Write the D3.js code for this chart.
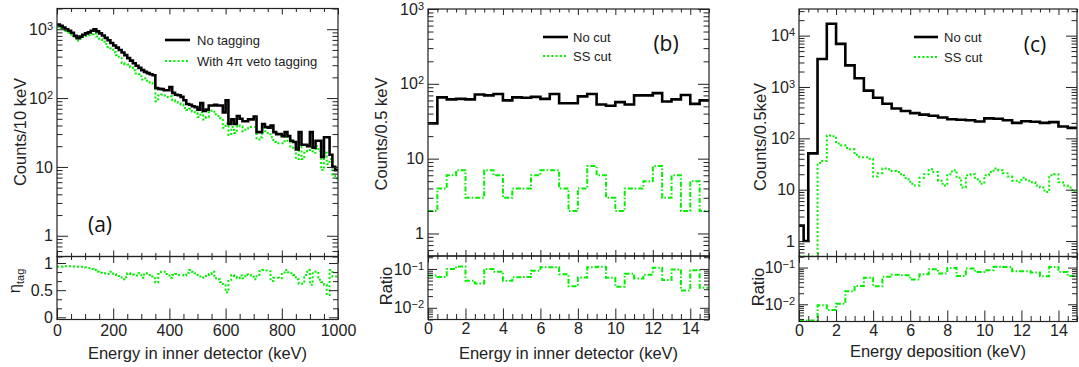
<!DOCTYPE html>
<html>
<head>
<meta charset="utf-8">
<script src="https://cdn.jsdelivr.net/npm/d3@7/dist/d3.min.js"></script>
<style>
  html, body { margin:0; padding:0; background:#fff; }
  svg { display:block; }
</style>
</head>
<body>
<svg id="chart" width="1079" height="367"></svg>
<script>
// ================= DATA =================
// Panel (a): 10 keV bins, 0-1000 keV
const aBinWidth = 10;
const aNoTagging = [1170,1120,1060,1000,950,890,800,740,780,830,
  870,900,950,1000,930,870,810,750,690,630,
  580,540,500,460,420,380,350,320,295,275,
  255,240,230,222,215,140,136,135,130,130,
  145,119,112,110,104,93,82,80,76,74,
  68,85,65,68,78,78,80,78,78,62,
  93,42,49,42,55,50,46,46,49,49,
  54,32,32,42,38,37,40,32,30,30,
  28,32,28,24,23,18,32,21,21,20,
  32,19,24,24,14,27,27,15,10,9];
const aWithVeto = [1088,1042,996,940,893,837,744,688,725,772,
  800,819,846,870,781,713,656,608,552,529,
  464,421,380,322,311,308,280,253,227,223,
  186,194,179,167,155,90,109,113,109,104,
  106,93,90,86,81,72,67,70,64,60,
  53,62,49,53,62,66,58,55,51,37,
  43,29,38,31,40,39,33,36,38,38,
  38,25,27,37,33,31,27,23,22,22,
  22,28,23,19,18,13,20,13,16,17,
  19,16,20,17,9,16,11,13,7.5,6.8];
const aEtaTag = [.93,.93,.94,.94,.94,.94,.93,.93,.93,.93,
  .92,.91,.89,.87,.84,.82,.81,.81,.80,.84,
  .80,.78,.76,.70,.74,.81,.80,.79,.77,.81,
  .73,.81,.78,.75,.72,.64,.80,.84,.84,.80,
  .73,.78,.80,.78,.78,.77,.82,.87,.84,.81,
  .78,.73,.76,.78,.80,.84,.72,.70,.65,.59,
  .46,.69,.78,.74,.72,.77,.72,.79,.78,.77,
  .70,.78,.85,.87,.86,.85,.67,.73,.73,.72,
  .80,.87,.83,.81,.78,.70,.62,.62,.78,.87,
  .60,.84,.84,.69,.65,.60,.41,.87,.75,.75];
const aXTicks = [0,200,400,600,800,1000];
const aYTicks = [1,10,100,1000];
const aRatioTicks = [0,0.5,1];
const aLegend = ['No tagging', 'With 4\u03c0 veto tagging'];

// Panel (b): 0.5 keV bins, 0-15 keV
const bBinWidth = 0.5;
const bNoCut = [29.6,66,62,63,62,72,70,73,60,66,65,67,63,73,55,55,68,73,53,51,57,53,70,70,75,58,62,71,54,60];
const bSSCut = [2,4,6,7,3,3,7,6,3,4,4,6,7,7,4,2,4,8,6,3,2,4,4,5,8,3,6,2,5,2];
const bRatio = [0.068,0.062,0.10,0.115,0.05,0.042,0.10,0.085,0.05,0.061,0.062,0.09,0.11,0.11,0.073,0.036,0.06,0.11,0.113,0.059,0.035,0.075,0.057,0.071,0.107,0.052,0.097,0.028,0.093,0.033];
const bXTicks = [0,2,4,6,8,10,12,14];
const bYTicks = [1,10,100,1000];
const bRatioTicks = [0.01,0.1];
const bLegend = ['No cut', 'SS cut'];

// Panel (c): 0.25 keV bins for spectra, 0.5 keV bins for ratio
const cFineWidth = 0.25, cRatioWidth = 0.5;
const cNoCut = [2,1,51,51,3500,3500,17000,17000,6900,6900,2640,2640,1480,1480,850,850,615,615,470,470,
  380,380,340,340,310,310,290,290,275,275,255,255,235,235,230,230,225,225,213,213,
  245,245,240,240,225,225,200,200,215,215,210,210,200,200,207,207,170,170,160,160];
const cSSCut = [0,0,0,0,33,36,114,110,79,73,65,61,48,43,43,40,18,21,26,25,23,22,19,16,13,12,17,20,
  25,22,15,12,20,24,17,11,19,20,16,13,19,22,26,24,21,18,15,14,17,15,14,12,11,9,19,20,14,12,11,9];
const cRatio = [0,0,0.0094,0.007,0.0104,0.0226,0.0316,0.053,0.031,0.056,0.064,0.062,0.047,0.066,0.090,
  0.069,0.098,0.059,0.094,0.076,0.085,0.106,0.104,0.079,0.079,0.073,0.058,0.104,0.076,0.059];
const cXTicks = [0,2,4,6,8,10,12,14];
const cYTicks = [1,10,100,1000,10000];
const cRatioTicks = [0.01,0.1];
const cLegend = ['No cut', 'SS cut'];

// ================= STYLE / LAYOUT =================
const FONT = '"Liberation Sans", Arial, Helvetica, sans-serif';
const GREEN = '#00f000';
const INK = '#222';
const DOT = '2,2.2';
const DASHDOT = '5,2,1.5,2';

const svg = d3.select('#chart');

function linSteps(domain, step) {
  const out = [];
  const n0 = Math.ceil(domain[0] / step - 1e-9), n1 = Math.floor(domain[1] / step + 1e-9);
  for (let n = n0; n <= n1; n++) out.push(+(n * step).toFixed(6));
  return out;
}
function logMinor(domain) {
  const out = [];
  for (let k = Math.floor(Math.log10(domain[0])); k <= Math.ceil(Math.log10(domain[1])); k++) {
    for (let m = 2; m < 10; m++) {
      const v = m * Math.pow(10, k);
      if (v >= domain[0] * 0.999 && v <= domain[1] * 1.001) out.push(v);
    }
  }
  return out;
}
function supLabel(sel, v) {
  const k = Math.round(Math.log10(v));
  sel.text(null);
  if (k === 0) { sel.text('1'); return; }
  if (k === 1) { sel.text('10'); return; }
  sel.append('tspan').text('10');
  sel.append('tspan').attr('dy', '-0.45em').attr('font-size', '11px')
    .text(k < 0 ? '\u2212' + (-k) : String(k));
}
function tickAxis(g, axis, transform, values, len) {
  g.append('g').attr('transform', transform)
    .call(axis.tickValues(values).tickSize(-len).tickFormat(''))
    .call(s => { s.select('.domain').remove();
      s.selectAll('line').attr('stroke', INK).attr('stroke-width', 1); });
}
function labelAxis(g, axis, transform, values, pad, fmt) {
  const a = g.append('g').attr('transform', transform)
    .call(axis.tickValues(values).tickSize(0).tickPadding(pad).tickFormat(fmt || (() => '')));
  a.select('.domain').remove();
  a.attr('font-family', FONT).attr('font-size', 16);
  a.selectAll('text').attr('fill', INK);
  return a;
}
function stepPath(x, y, yFloor, width, vals) {
  let d = '';
  vals.forEach((v, i) => {
    const yy = v > 0 ? y(v) : yFloor;
    const xa = x(i * width), xb = x((i + 1) * width);
    d += (i === 0 ? `M${xa},${yy}` : `V${yy}`) + `H${xb}`;
  });
  return d;
}

let clipId = 0;
function panel(cfg) {
  const g = svg.append('g');
  const x = d3.scaleLinear().domain(cfg.xDomain).range([cfg.left, cfg.right]);
  const yM = d3.scaleLog().domain(cfg.mainDomain).range([cfg.split, cfg.top]).clamp(true);
  const yR = (cfg.ratioLog ? d3.scaleLog() : d3.scaleLinear())
    .domain(cfg.ratioDomain).range([cfg.bottom, cfg.split]).clamp(true);

  const defs = svg.append('defs');
  const cm = 'clip' + (clipId++), cr = 'clip' + (clipId++);
  defs.append('clipPath').attr('id', cm).append('rect')
    .attr('x', cfg.left).attr('y', cfg.top).attr('width', cfg.right - cfg.left).attr('height', cfg.split - cfg.top);
  defs.append('clipPath').attr('id', cr).append('rect')
    .attr('x', cfg.left).attr('y', cfg.split).attr('width', cfg.right - cfg.left).attr('height', cfg.bottom - cfg.split);

  const gm = g.append('g').attr('clip-path', `url(#${cm})`);
  gm.append('path').attr('d', stepPath(x, yM, cfg.split, cfg.greenWidth, cfg.green))
    .attr('fill', 'none').attr('stroke', GREEN).attr('stroke-width', 2).attr('stroke-dasharray', cfg.greenDash);
  gm.append('path').attr('d', stepPath(x, yM, cfg.split, cfg.blackWidth, cfg.black))
    .attr('fill', 'none').attr('stroke', '#000').attr('stroke-width', 2.6).attr('stroke-linejoin', 'miter');

  const gr = g.append('g').attr('clip-path', `url(#${cr})`);
  gr.append('path').attr('d', stepPath(x, yR, cfg.bottom - 1, cfg.ratioWidth, cfg.ratio))
    .attr('fill', 'none').attr('stroke', GREEN).attr('stroke-width', 2).attr('stroke-dasharray', cfg.ratioDash);

  [[cfg.top, cfg.split], [cfg.split, cfg.bottom]].forEach(([t, b]) => {
    g.append('rect').attr('x', cfg.left).attr('y', t).attr('width', cfg.right - cfg.left).attr('height', b - t)
      .attr('fill', 'none').attr('stroke', INK).attr('stroke-width', 1.2);
  });

  const xMajor = linSteps(cfg.xDomain, cfg.xMajor);
  const xMinor = linSteps(cfg.xDomain, cfg.xMinor).filter(v => !xMajor.includes(v));
  tickAxis(g, d3.axisTop(x), `translate(0,${cfg.top})`, xMajor, 6);
  tickAxis(g, d3.axisTop(x), `translate(0,${cfg.top})`, xMinor, 3.5);
  tickAxis(g, d3.axisBottom(x), `translate(0,${cfg.split})`, xMajor, 6);
  tickAxis(g, d3.axisBottom(x), `translate(0,${cfg.split})`, xMinor, 3.5);
  tickAxis(g, d3.axisTop(x), `translate(0,${cfg.split})`, xMajor, 6.5);
  tickAxis(g, d3.axisTop(x), `translate(0,${cfg.split})`, xMinor, 3.5);
  tickAxis(g, d3.axisBottom(x), `translate(0,${cfg.bottom})`, xMajor, 11);
  tickAxis(g, d3.axisBottom(x), `translate(0,${cfg.bottom})`, xMinor, 5.5);

  const yMinor = logMinor(cfg.mainDomain);
  [[d3.axisLeft, cfg.left], [d3.axisRight, cfg.right]].forEach(([ax, px]) => {
    tickAxis(g, ax(yM), `translate(${px},0)`, cfg.yTicks, 11);
    tickAxis(g, ax(yM), `translate(${px},0)`, yMinor, 5.5);
  });
  const rMinor = cfg.ratioLog ? logMinor(cfg.ratioDomain)
    : linSteps(cfg.ratioDomain, 1 / 6).filter(v => !cfg.ratioTicks.some(t => Math.abs(t - v) < 1e-6));
  [[d3.axisLeft, cfg.left], [d3.axisRight, cfg.right]].forEach(([ax, px]) => {
    tickAxis(g, ax(yR), `translate(${px},0)`, cfg.ratioTicks, 9);
    tickAxis(g, ax(yR), `translate(${px},0)`, rMinor, 5);
  });

  labelAxis(g, d3.axisBottom(x), `translate(0,${cfg.bottom})`, cfg.xTicks, cfg.xPad, d => String(d));
  const ml = labelAxis(g, d3.axisLeft(yM), `translate(${cfg.left},0)`, cfg.yTicks, 4);
  ml.selectAll('.tick text').each(function (d) { supLabel(d3.select(this), d); });
  if (cfg.ratioLog) {
    const rl = labelAxis(g, d3.axisLeft(yR), `translate(${cfg.left},0)`, cfg.ratioTicks, 4);
    rl.selectAll('.tick text').each(function (d) { supLabel(d3.select(this), d); });
  } else {
    labelAxis(g, d3.axisLeft(yR), `translate(${cfg.left},0)`, cfg.ratioTicks, 4, d => String(d));
  }

  g.append('text').attr('x', (cfg.left + cfg.right) / 2).attr('y', cfg.xTitleY)
    .attr('text-anchor', 'middle').attr('font-family', FONT).attr('font-size', 16.5).attr('fill', INK)
    .text(cfg.xTitle);
  g.append('text').attr('transform', `translate(${cfg.yTitlePos[0]},${cfg.yTitlePos[1]}) rotate(-90)`)
    .attr('text-anchor', 'middle').attr('font-family', FONT).attr('font-size', 16.5).attr('fill', INK)
    .text(cfg.yTitle);
  const rt = g.append('text').attr('transform', `translate(${cfg.rTitlePos[0]},${cfg.rTitlePos[1]}) rotate(-90)`)
    .attr('text-anchor', 'middle').attr('font-family', FONT).attr('font-size', 16.5).attr('fill', INK);
  if (cfg.rTitleSub) {
    rt.append('tspan').text(cfg.rTitle);
    rt.append('tspan').attr('dy', '0.35em').attr('font-size', 11).text(cfg.rTitleSub);
  } else rt.text(cfg.rTitle);

  const L = cfg.legend;
  g.append('line').attr('x1', L.x0).attr('x2', L.x1).attr('y1', L.y1).attr('y2', L.y1)
    .attr('stroke', '#000').attr('stroke-width', 2.6);
  g.append('line').attr('x1', L.x0).attr('x2', L.x1).attr('y1', L.y2).attr('y2', L.y2)
    .attr('stroke', GREEN).attr('stroke-width', 2).attr('stroke-dasharray', DOT);
  [[cfg.legendText[0], L.y1], [cfg.legendText[1], L.y2]].forEach(([t, yy]) => {
    g.append('text').attr('x', L.tx).attr('y', yy).attr('dy', '0.35em')
      .attr('font-family', FONT).attr('font-size', 13).attr('fill', INK).text(t);
  });

  g.append('text').attr('x', cfg.tag[0]).attr('y', cfg.tag[1]).attr('dy', '0.36em')
    .attr('text-anchor', 'middle').attr('font-family', '"Open Sans", "Noto Sans", sans-serif')
    .attr('font-size', 21).attr('fill', '#111').text(cfg.tag[2]);
}

panel({
  left: 57, right: 338, top: 8.5, split: 256.5, bottom: 319.5,
  xDomain: [0, 1000], xMajor: 200, xMinor: 50, xTicks: aXTicks, xPad: 5,
  mainDomain: [0.5, 2000], yTicks: aYTicks,
  ratioDomain: [-0.04, 1.12], ratioLog: false, ratioTicks: aRatioTicks,
  black: aNoTagging, blackWidth: aBinWidth, green: aWithVeto, greenWidth: aBinWidth, greenDash: DOT,
  ratio: aEtaTag, ratioWidth: aBinWidth, ratioDash: DOT,
  xTitle: 'Energy in inner detector (keV)', xTitleY: 359,
  yTitle: 'Counts/10 keV', yTitlePos: [26, 132],
  rTitle: '\u03b7', rTitleSub: 'tag', rTitlePos: [20, 281],
  legend: { x0: 165, x1: 190, y1: 40, y2: 61, tx: 197 }, legendText: aLegend,
  tag: [100, 224, '(a)']
});
panel({
  left: 428, right: 709, top: 9, split: 256, bottom: 319.5,
  xDomain: [0, 15], xMajor: 2, xMinor: 0.5, xTicks: bXTicks, xPad: 3.5,
  mainDomain: [0.5, 1000], yTicks: bYTicks,
  ratioDomain: [0.005, 0.215], ratioLog: true, ratioTicks: bRatioTicks,
  black: bNoCut, blackWidth: bBinWidth, green: bSSCut, greenWidth: bBinWidth, greenDash: DASHDOT,
  ratio: bRatio, ratioWidth: bBinWidth, ratioDash: DASHDOT,
  xTitle: 'Energy in inner detector (keV)', xTitleY: 358.5,
  yTitle: 'Counts/0.5 keV', yTitlePos: [387, 134],
  rTitle: 'Ratio', rTitlePos: [392, 286],
  legend: { x0: 543, x1: 568, y1: 37, y2: 56, tx: 573 }, legendText: bLegend,
  tag: [666, 43, '(b)']
});
panel({
  left: 799, right: 1077, top: 9, split: 256.5, bottom: 321.5,
  xDomain: [0, 15], xMajor: 2, xMinor: 0.5, xTicks: cXTicks, xPad: 3.5,
  mainDomain: [0.5, 33000], yTicks: cYTicks,
  ratioDomain: [0.0034, 0.2], ratioLog: true, ratioTicks: cRatioTicks,
  black: cNoCut, blackWidth: cFineWidth, green: cSSCut, greenWidth: cFineWidth, greenDash: DOT,
  ratio: cRatio, ratioWidth: cRatioWidth, ratioDash: DASHDOT,
  xTitle: 'Energy deposition (keV)', xTitleY: 356.5,
  yTitle: 'Counts/0.5keV', yTitlePos: [766, 137],
  rTitle: 'Ratio', rTitlePos: [764, 287],
  legend: { x0: 914, x1: 938, y1: 37, y2: 57, tx: 944 }, legendText: cLegend,
  tag: [1035, 44, '(c)']
});
</script>
</body>
</html>
